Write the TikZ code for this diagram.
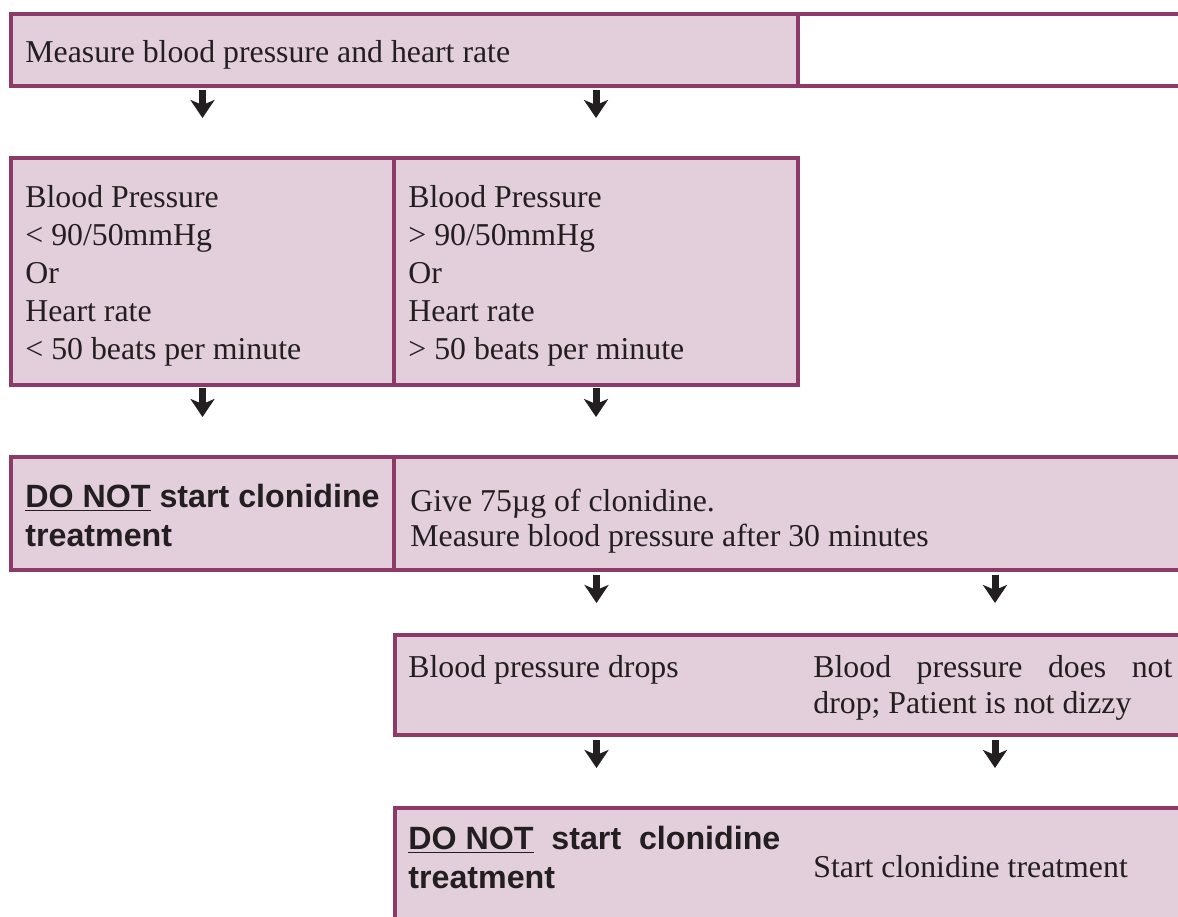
\documentclass[tikz,border=0pt]{standalone}
\usepackage{fontspec}
\setmainfont{Liberation Serif}
\setsansfont{Liberation Sans}
\usetikzlibrary{arrows.meta, calc}

\definecolor{cellfill}{HTML}{E3CEDC}
\definecolor{cellline}{HTML}{8E3A69}
\definecolor{ink}{HTML}{231F20}

\tikzset{
  cell/.style={rectangle, draw=cellline, fill=cellfill, line width=2pt,
               anchor=north west, outer sep=0pt, inner sep=0pt},
  blank/.style={cell, fill=white},
  tint/.style={rectangle, fill=cellfill, anchor=north west,
               outer sep=0pt, inner sep=0pt},
  cellframe/.style={draw=cellline, line width=2pt},
  txt/.style={anchor=base west, inner sep=0pt, align=left, text=ink,
              font=\fontsize{15.9}{19}\selectfont},
  boldtxt/.style={txt, font=\fontsize{16.1}{19.5}\selectfont\sffamily\bfseries},
  downarr/.style={draw=ink, line width=3.5pt,
                  -{Stealth[width=12pt, length=9pt, inset=2.5pt]}},
}

\begin{document}
\begin{tikzpicture}[x=0.5pt, y=-0.5pt]
  \useasboundingbox (0,0) rectangle (1178,916);
  \clip (0,0) rectangle (1178,916);

  % row 1
  \node[cell, minimum width=393.5pt, minimum height=36pt] (A) at (11,14) {};
  \node[blank, minimum width=197pt, minimum height=36pt] (B) at (798,14) {};
  \node[txt] (tA) at (25,62) {Measure blood pressure and heart rate};

  % row 2 (text placed by its last baseline)
  \node[cell, minimum width=191.5pt, minimum height=113.5pt] (C) at (11,158) {};
  \node[cell, minimum width=202pt, minimum height=113.5pt] (D) at (394,158) {};
  \node[txt] (tC) at (25,359)
    {Blood Pressure\\< 90/50mmHg\\Or\\Heart rate\\< 50 beats per minute};
  \node[txt] (tD) at (408,359)
    {Blood Pressure\\> 90/50mmHg\\Or\\Heart rate\\> 50 beats per minute};

  % row 3
  \node[cell, minimum width=191.5pt, minimum height=56.5pt] (E) at (11,457) {};
  \node[cell, minimum width=399pt, minimum height=56.5pt] (F) at (394,457) {};
  \node[boldtxt] (tE) at (25,546) {\underline{DO NOT} start clonidine\\treatment};
  \node[txt, font=\fontsize{15.9}{17.5}\selectfont] (tF) at (410,546)
    {Give 75µg of clonidine.\\Measure blood pressure after 30 minutes};

  % row 4
  \node[tint, minimum width=201.5pt, minimum height=50pt] (G) at (395,635) {};
  \node[tint, minimum width=197pt, minimum height=50pt] (H) at (798,635) {};
  \draw[cellframe] (G.north west) rectangle (H.south east);
  \node[txt] (tG) at (408,677) {Blood pressure drops};
  \node[txt, font=\fontsize{15.9}{18}\selectfont] (tH) at (813,713)
    {\makebox[179.5pt][s]{Blood pressure does not}\\drop; Patient is not dizzy};

  % row 5
  \node[tint, minimum width=201.5pt, minimum height=76pt] (I) at (395,808) {};
  \node[tint, minimum width=197pt, minimum height=76pt] (J) at (798,808) {};
  \draw[cellframe] (I.north west) rectangle (J.south east);
  \node[boldtxt] (tI) at (408,888)
    {\makebox[186pt][s]{\underline{DO NOT} start clonidine}\\treatment};
  \node[txt] (tJ) at (813,877) {Start clonidine treatment};

  % arrows
  \draw[downarr, shorten <=2pt, shorten >=20pt] (A.south -| C.north) -- (C.north);
  \draw[downarr, shorten <=2pt, shorten >=20pt] (A.south -| D.north) -- (D.north);
  \draw[downarr, shorten <=1.5pt, shorten >=20pt] (C.south) -- (E.north);
  \draw[downarr, shorten <=1.5pt, shorten >=20pt] (D.south) -- (D.south |- F.north);
  \draw[downarr, shorten <=2.5pt, shorten >=16pt] (F.south -| G.north) -- (G.north);
  \draw[downarr, shorten <=2.5pt, shorten >=16pt] (F.south -| H.north) -- (H.north);
  \draw[downarr, shorten <=2.5pt, shorten >=20pt] (G.south) -- (I.north);
  \draw[downarr, shorten <=2.5pt, shorten >=20pt] (H.south) -- (J.north);
\end{tikzpicture}
\end{document}
